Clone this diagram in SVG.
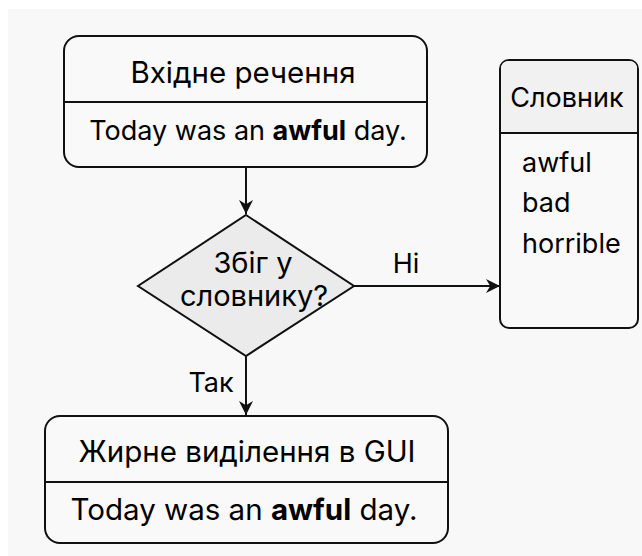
<svg xmlns="http://www.w3.org/2000/svg" width="642" height="556" viewBox="0 0 642 556">
<defs>
<style>
.t{font-family:Inter,"Noto Sans","Liberation Sans",sans-serif;fill:#000;font-size:27px}
.h{font-size:29.5px}
.d{font-size:29px}
.box{fill:#f9f9f9;stroke:#111;stroke-width:2}
.ln{stroke:#111;stroke-width:2;fill:none}
</style>
<marker id="ah" viewBox="0 0 10 10" refX="10" refY="5" markerWidth="15" markerHeight="14" markerUnits="userSpaceOnUse" orient="auto">
<path d="M0,0 L10,5 L0,10 L3,5 Z" fill="#111"/>
</marker>
</defs>
<rect width="642" height="556" fill="#ffffff"/>
<rect x="8" y="9" width="634" height="547" fill="#f8f8f8"/>
<g id="connectors">
<line class="ln" x1="246" y1="167" x2="246" y2="214" marker-end="url(#ah)"/>
<line class="ln" x1="354" y1="286" x2="500" y2="286" marker-end="url(#ah)"/>
<line class="ln" x1="246" y1="356" x2="246" y2="415" marker-end="url(#ah)"/>
<text class="t" x="406" y="273" text-anchor="middle">Ні</text>
<text class="t" x="211" y="392" text-anchor="middle">Так</text>
</g>
<g id="input">
<rect class="box" x="64" y="36" width="363" height="131" rx="15"/>
<line class="ln" x1="64" y1="102" x2="427" y2="102"/>
<text class="t h" x="243" y="83" text-anchor="middle" font-size="30">Вхідне речення</text>
<text class="t" x="248" y="140" text-anchor="middle">Today was an <tspan font-weight="bold">awful</tspan> day.</text>
</g>
<g id="decision">
<polygon points="246,215 354,286 246,356 138,286" fill="#ebebeb" stroke="#111" stroke-width="2"/>
<text class="t d" x="253" y="273" text-anchor="middle">Збіг у</text>
<text class="t d" x="254" y="306" text-anchor="middle">словнику?</text>
</g>
<g id="dictionary">
<rect class="box" x="500" y="60" width="138" height="268" rx="9"/>
<path d="M501,133 V69 Q501,61 509,61 H629 Q637,61 637,69 V133 Z" fill="#f1f1f1"/>
<line class="ln" x1="500" y1="133" x2="638" y2="133"/>
<text class="t" x="567" y="107" text-anchor="middle">Словник</text>
<text class="t" x="522" y="172">awful</text>
<text class="t" x="522" y="212">bad</text>
<text class="t" x="522" y="253">horrible</text>
</g>
<g id="output">
<rect class="box" x="45" y="416" width="403" height="127" rx="15"/>
<line class="ln" x1="45" y1="482" x2="448" y2="482"/>
<text class="t h" x="247" y="462" text-anchor="middle">Жирне виділення в GUI</text>
<text class="t h" x="244" y="520" text-anchor="middle">Today was an <tspan font-weight="bold">awful</tspan> day.</text>
</g>
</svg>
